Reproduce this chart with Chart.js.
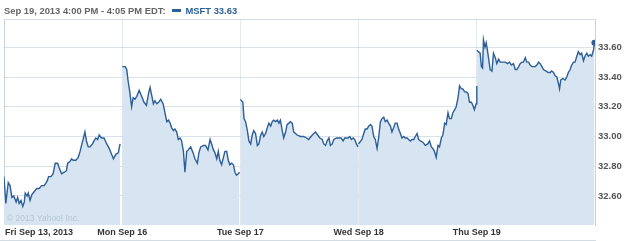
<!DOCTYPE html>
<html>
<head>
<meta charset="utf-8">
<script src="https://cdn.jsdelivr.net/npm/chart.js@4/dist/chart.umd.min.js"></script>
<style>
  body { margin: 0; background: #fff; }
  #wrap { position: relative; width: 625px; height: 241px; overflow: hidden; }
  #hdr { position: absolute; left: 4px; top: 5px; line-height: 12px; font: bold 9.4px 'Liberation Sans', sans-serif; color: #666; white-space: nowrap; }
  #hdr .key { display: inline-block; width: 9px; height: 3px; background: #2d5e98; margin: 0 5px 0 6px; vertical-align: 2px; }
  #hdr .sym { color: #2d5e98; }
</style>
</head>
<body>
<div id="wrap">
  <canvas id="chart" width="625" height="241"></canvas>
  <div id="hdr">Sep 19, 2013 4:00 PM - 4:05 PM EDT:<span class="key"></span><span class="sym">MSFT 33.63</span></div>
</div>
<script>
// minutes after the open, price
const fri = [[0,32.73],[6,32.55],[14,32.69],[20,32.67],[26,32.59],[32,32.60],[40,32.56],[45,32.59],[50,32.55],[56,32.57],[62,32.53],[67,32.56],[70,32.62],[76,32.60],[80,32.62],[86,32.57],[92,32.61],[100,32.63],[108,32.65],[116,32.65],[124,32.67],[133,32.67],[142,32.70],[147,32.73],[155,32.73],[162,32.75],[169,32.82],[177,32.82],[182,32.79],[190,32.75],[199,32.76],[206,32.77],[210,32.82],[217,32.83],[223,32.85],[228,32.84],[237,32.84],[245,32.86],[251,32.90],[257,32.95],[261,32.98],[267,33.03],[272,32.97],[278,32.93],[284,32.93],[292,32.95],[297,32.97],[303,32.99],[309,32.98],[314,33.01],[322,32.99],[330,32.99],[339,32.95],[347,32.92],[355,32.88],[361,32.85],[369,32.88],[377,32.89],[383,32.95]]
const mon = [[0,33.47],[10,33.47],[15,33.45],[19,33.38],[25,33.30],[31,33.20],[36,33.26],[42,33.25],[48,33.27],[56,33.31],[64,33.27],[72,33.23],[80,33.21],[87,33.29],[92,33.33],[98,33.27],[103,33.22],[108,33.24],[114,33.22],[120,33.23],[127,33.25],[135,33.22],[141,33.16],[147,33.10],[153,33.11],[158,33.09],[163,33.06],[169,33.04],[174,33.05],[180,33.03],[185,32.98],[191,32.99],[196,32.97],[202,32.90],[207,32.76],[213,32.90],[218,32.91],[226,32.93],[234,32.89],[240,32.85],[248,32.82],[253,32.89],[259,32.93],[268,32.94],[275,32.94],[283,32.91],[290,32.98],[295,32.95],[301,32.91],[306,32.89],[312,32.85],[317,32.90],[322,32.84],[328,32.81],[334,32.86],[339,32.90],[345,32.90],[350,32.84],[355,32.81],[361,32.82],[367,32.81],[372,32.76],[377,32.74],[383,32.75],[387,32.76]]
const tue = [[0,33.25],[8,33.23],[12,33.12],[17,33.10],[23,33.04],[28,32.97],[34,32.95],[39,33.01],[44,33.04],[50,33.02],[56,32.94],[61,32.95],[67,33.01],[72,33.03],[77,33.00],[83,33.02],[89,33.06],[94,33.09],[100,33.07],[105,33.10],[110,33.11],[116,33.10],[122,33.11],[127,33.09],[132,33.11],[138,33.04],[143,32.99],[149,33.03],[154,33.08],[160,33.09],[165,33.10],[171,33.09],[176,33.03],[182,33.02],[187,33.01],[198,33.00],[209,33.00],[218,32.99],[225,32.98],[233,33.00],[242,33.02],[248,33.03],[255,33.01],[262,32.99],[270,32.98],[275,32.95],[281,32.94],[286,32.97],[292,32.99],[297,32.94],[303,32.95],[308,32.98],[317,32.99],[325,32.99],[332,32.99],[339,32.97],[344,32.99],[350,32.99],[355,32.99],[361,33.00],[366,32.98],[372,32.99],[377,32.98],[383,32.95],[388,32.93]]
const wed = [[0,32.95],[11,32.98],[17,33.02],[22,33.05],[28,33.05],[33,33.07],[39,33.08],[44,33.07],[50,33.00],[55,32.98],[61,32.92],[66,32.99],[72,33.10],[77,33.12],[83,33.13],[88,33.10],[94,33.11],[99,33.09],[105,33.07],[110,33.03],[116,33.06],[121,33.09],[127,33.09],[132,33.05],[138,33.02],[143,32.99],[149,33.00],[154,32.99],[160,32.99],[165,32.98],[171,32.97],[176,32.98],[182,32.98],[187,33.00],[193,33.02],[198,32.98],[204,32.97],[213,32.96],[220,32.94],[228,32.95],[234,32.97],[240,32.93],[245,32.92],[250,32.90],[256,32.86],[262,32.94],[267,32.93],[273,32.99],[278,33.01],[284,33.09],[289,33.08],[295,33.16],[300,33.12],[306,33.12],[311,33.16],[317,33.18],[322,33.20],[328,33.26],[333,33.34],[339,33.32],[344,33.32],[350,33.30],[355,33.30],[361,33.29],[366,33.23],[372,33.23],[377,33.21],[382,33.18],[388,33.22],[390,33.34]]
const thu = [[0,33.58],[11,33.56],[15,33.47],[19,33.46],[22,33.65],[27,33.60],[31,33.63],[35,33.58],[40,33.51],[44,33.45],[50,33.44],[55,33.56],[61,33.53],[66,33.49],[72,33.52],[77,33.50],[86,33.50],[94,33.50],[101,33.49],[108,33.50],[114,33.48],[121,33.49],[127,33.45],[132,33.45],[138,33.47],[143,33.49],[149,33.50],[154,33.50],[160,33.53],[165,33.50],[171,33.50],[176,33.48],[182,33.47],[187,33.47],[193,33.47],[198,33.48],[204,33.50],[209,33.49],[215,33.47],[220,33.45],[229,33.44],[236,33.43],[242,33.43],[247,33.44],[253,33.43],[258,33.41],[264,33.40],[269,33.36],[273,33.32],[277,33.38],[284,33.39],[291,33.38],[297,33.40],[302,33.43],[308,33.45],[313,33.48],[319,33.50],[324,33.50],[330,33.54],[335,33.57],[341,33.55],[346,33.56],[352,33.51],[357,33.54],[363,33.56],[368,33.54],[374,33.55],[379,33.54],[385,33.58],[388,33.63]]

const days = ['Fri Sep 13, 2013', 'Mon Sep 16', 'Tue Sep 17', 'Wed Sep 18', 'Thu Sep 19']
const yTicks = [32.6, 32.8, 33.0, 33.2, 33.4, 33.6]
const sessionMin = 390
const lineColor = '#2d5e98'

const sessions = [fri, mon, tue, wed, thu]

const datasets = sessions.map((s, i) => ({
  data: s.map(([m, p]) => ({ x: i * sessionMin + m, y: p })),
  borderColor: lineColor,
  borderWidth: 1.4,
  backgroundColor: '#d6e5f1',
  fill: 'start',
  tension: 0,
  pointRadius: ctx => (i === sessions.length - 1 && ctx.dataIndex === s.length - 1) ? 3 : 0,
  pointBackgroundColor: lineColor,
  pointBorderWidth: 0
}))

// day labels, frame lines and the copyright note
const extras = {
  id: 'extras',
  afterDraw(chart) {
    const { ctx, chartArea: a, scales: { x } } = chart
    ctx.save()
    ctx.strokeStyle = '#d3dbe3'
    ctx.lineWidth = 1
    ctx.beginPath()
    ctx.moveTo(a.left, 19.5); ctx.lineTo(a.right + 1, 19.5)
    ctx.moveTo(0, 240.5); ctx.lineTo(a.right + 1, 240.5)
    ctx.stroke()

    ctx.font = 'bold 9px "Liberation Sans", sans-serif'
    ctx.fillStyle = '#333'
    ctx.textBaseline = 'middle'
    days.forEach((d, i) => {
      if (i === 0) {
        ctx.textAlign = 'left'
        ctx.fillText(d, a.left + 1, 233)
      } else {
        ctx.textAlign = 'center'
        ctx.fillText(d, x.getPixelForValue(i * sessionMin), 233)
      }
    })

    ctx.font = '8.5px "Liberation Sans", sans-serif'
    ctx.fillStyle = '#b4c6d6'
    ctx.textAlign = 'left'
    ctx.fillText('\u00a9 2013 Yahoo! Inc.', a.left + 3, 219)
    ctx.restore()
  }
}

new Chart(document.getElementById('chart'), {
  type: 'line',
  data: { datasets },
  plugins: [extras],
  options: {
    responsive: false,
    animation: false,
    layout: { padding: { left: 3, top: 19 } },
    plugins: { legend: { display: false }, tooltip: { enabled: false } },
    scales: {
      x: {
        type: 'linear',
        min: 0,
        max: sessionMin * days.length,
        z: 1,
        afterBuildTicks: s => { s.ticks = days.map((d, i) => ({ value: i * sessionMin })) },
        afterFit: s => { s.height = 16 },
        ticks: { display: false },
        grid: { color: c => c.index === 0 ? '#c9d2dc' : '#e4eaf0', drawTicks: false },
        border: { display: false }
      },
      y: {
        position: 'right',
        min: 32.405,
        max: 33.79,
        z: 1,
        afterBuildTicks: s => { s.ticks = yTicks.map(v => ({ value: v })) },
        afterFit: s => { s.width = 30 },
        ticks: {
          padding: 3,
          color: '#555',
          font: { family: 'Liberation Sans', size: 9.5, weight: 'bold' },
          callback: v => v.toFixed(2)
        },
        grid: { color: 'rgba(160,182,205,0.4)', drawTicks: false },
        border: { display: true, color: '#c9d2dc' }
      }
    }
  }
})
</script>
</body>
</html>
